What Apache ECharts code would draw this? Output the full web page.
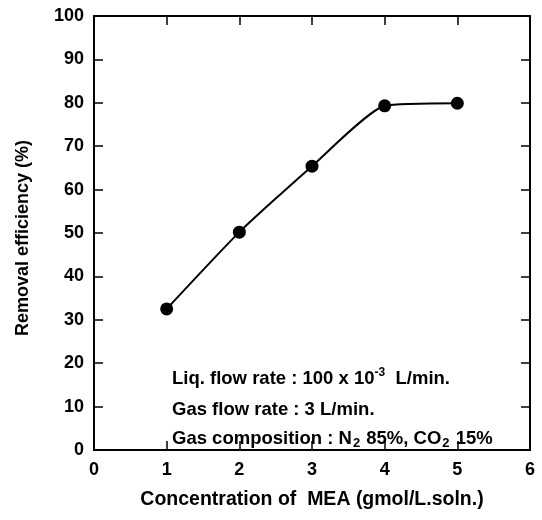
<!DOCTYPE html>
<html><head><meta charset="utf-8">
<script src="https://cdn.jsdelivr.net/npm/echarts@6/dist/echarts.min.js"></script>
<style>html,body{margin:0;padding:0;background:#fff}#c{width:542px;height:520px}</style>
</head><body><div id="c"></div>
<script>
const concentration = [1, 2, 3, 4, 5];
const efficiency = [32.5, 50.2, 65.4, 79.3, 79.9];
const xTicks = [0, 1, 2, 3, 4, 5, 6];
const yTicks = [0, 10, 20, 30, 40, 50, 60, 70, 80, 90, 100];
const xTitle = 'Concentration of  MEA (gmol/L.soln.)';
const yTitle = 'Removal efficiency (%)';

const FONT = 'Liberation Sans, Arial, sans-serif';
const chart = echarts.init(document.getElementById('c'));
const lbl = {fontFamily: FONT, fontSize: 18, fontWeight: 'bold', color: '#000'};
const axisCommon = {
  axisLine: {show: true, onZero: false, lineStyle: {color: '#000', width: 2}},
  axisTick: {show: true, inside: true, length: 9, lineStyle: {color: '#000', width: 1.5}},
  splitLine: {show: false}
};
const txt = {fontFamily: FONT, fontSize: 18.5, fontWeight: 'bold', fill: '#000'};
chart.setOption({
  animation: false,
  backgroundColor: '#fff',
  grid: {left: 94, right: 12, top: 16, bottom: 70},
  xAxis: [
    Object.assign({type: 'value', min: xTicks[0], max: xTicks[xTicks.length-1], interval: 1,
      name: xTitle, nameLocation: 'middle', nameGap: 40,
      nameTextStyle: Object.assign({}, lbl, {fontSize: 19.5}),
      axisLabel: Object.assign({margin: 11}, lbl)}, axisCommon),
    Object.assign({type: 'value', position: 'top', min: xTicks[0], max: xTicks[xTicks.length-1], interval: 1,
      axisLabel: {show: false}}, axisCommon)
  ],
  yAxis: [
    Object.assign({type: 'value', min: yTicks[0], max: yTicks[yTicks.length-1], interval: 10,
      name: yTitle, nameLocation: 'middle', nameGap: 62, nameRotate: 90,
      nameTextStyle: Object.assign({}, lbl, {fontSize: 18, padding: [0, 0, 0, -10]}),
      axisLabel: Object.assign({margin: 10}, lbl)}, axisCommon),
    Object.assign({type: 'value', position: 'right', min: yTicks[0], max: yTicks[yTicks.length-1], interval: 10,
      axisLabel: {show: false}}, axisCommon)
  ],
  series: [{
    type: 'line',
    data: concentration.map((c, i) => [c, efficiency[i]]),
    smooth: 0.18,
    symbol: 'circle',
    symbolSize: 13,
    itemStyle: {color: '#000'},
    lineStyle: {color: '#000', width: 2}
  }],
  graphic: [
    {type: 'text', left: 172, top: 367, style: Object.assign({}, txt, {
      text: 'Liq. flow rate : 100 x 10{sup|-3}  L/min.',
      rich: {sup: {fontFamily: FONT, fontSize: 12, fontWeight: 'bold', fill: '#000', verticalAlign: 'top', padding: [0, 0, 12, 0]}}
    })},
    {type: 'text', left: 172, top: 400, style: Object.assign({}, txt, {text: 'Gas flow rate : 3 L/min.'})},
    {type: 'text', left: 172, top: 429, style: Object.assign({}, txt, {
      text: 'Gas composition : N{sub|2} 85%, CO{sub|2} 15%',
      rich: {sub: {fontFamily: FONT, fontSize: 13, fontWeight: 'bold', fill: '#000', padding: [10, 1, 0, 1]}}
    })}
  ]
});
</script></body></html>
